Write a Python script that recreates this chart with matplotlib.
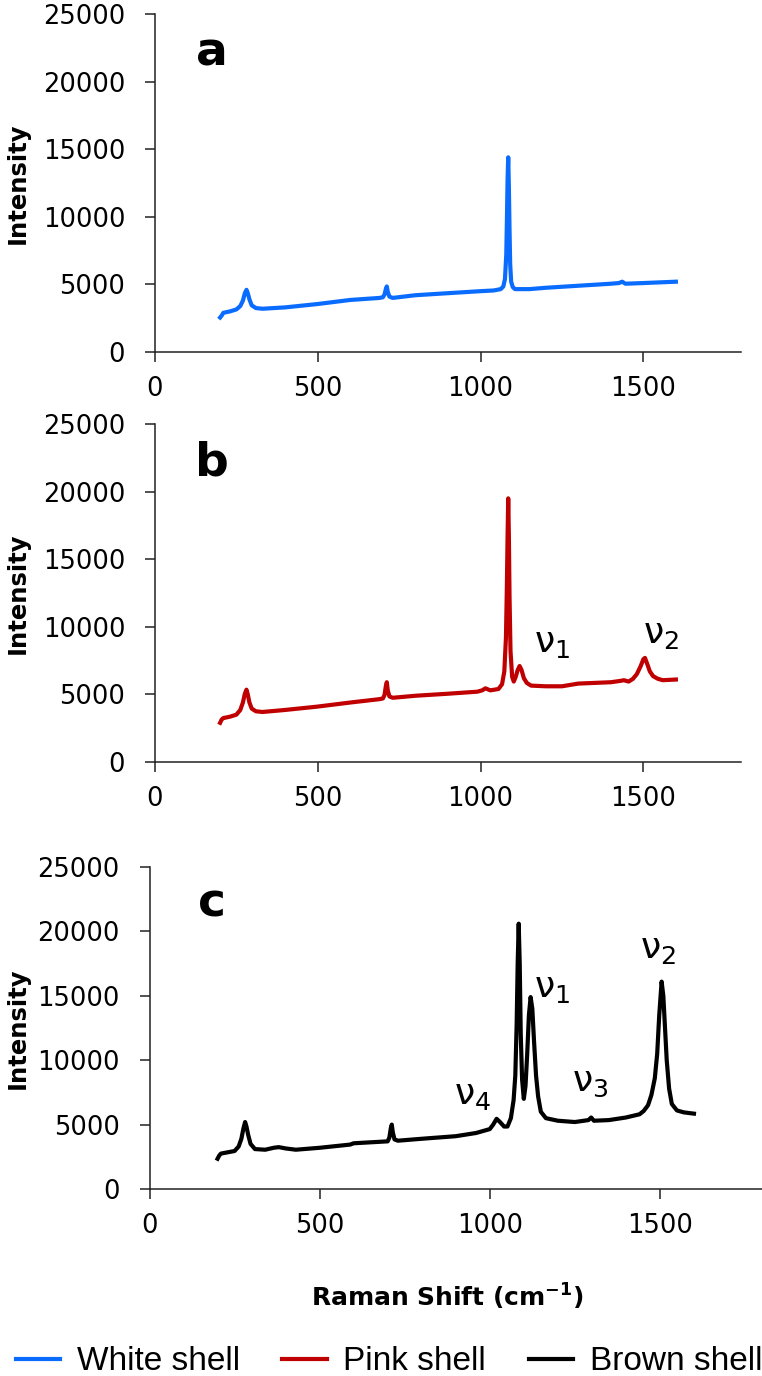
import numpy as np
import matplotlib
matplotlib.use("Agg")
from matplotlib import pyplot as plt

# Raman spectra (shift in cm-1, intensity)
white_x = [200, 205, 210, 230, 250, 262, 270, 276, 281, 285, 290, 297, 310, 330, 400, 500, 600, 690, 700,
           705, 709, 712, 715, 720, 730, 800, 900, 1000, 1040, 1062, 1070, 1075, 1079, 1081, 1083, 1085,
           1087, 1089, 1091, 1094, 1099, 1106, 1150, 1200, 1300, 1400, 1425, 1435, 1445, 1500, 1600]
white_y = [2550, 2700, 2900, 3000, 3150, 3400, 3800, 4350, 4600, 4350, 3900, 3450, 3250, 3200, 3300, 3550, 3850, 4000, 4050,
           4250, 4650, 4850, 4450, 4100, 4000, 4200, 4350, 4500, 4550, 4650, 4850, 5400, 7200, 9800, 12800, 14400,
           12200, 9000, 6500, 5200, 4800, 4650, 4650, 4750, 4900, 5050, 5100, 5200, 5050, 5100, 5200]

pink_x = [200, 205, 210, 230, 250, 262, 270, 276, 281, 285, 290, 297, 310, 330, 400, 500, 600, 690, 700,
          705, 709, 712, 715, 720, 730, 800, 900, 990, 1005, 1015, 1030, 1055, 1066, 1073, 1078, 1081, 1083,
          1085, 1087, 1089, 1092, 1097, 1102, 1108, 1114, 1120, 1126, 1133, 1142, 1155, 1200, 1250, 1300, 1400,
          1430, 1440, 1455, 1468, 1480, 1492, 1500, 1505, 1512, 1520, 1530, 1545, 1560, 1600]
pink_y = [2900, 3150, 3250, 3350, 3500, 3850, 4400, 5050, 5350, 5000, 4400, 3950, 3750, 3700, 3850, 4100, 4400, 4650, 4700,
          4950, 5600, 5900, 5300, 4850, 4750, 4900, 5050, 5200, 5300, 5450, 5300, 5400, 5750, 6700, 9200, 13200, 16700,
          19500, 16700, 12200, 8200, 6300, 5950, 6300, 6800, 7100, 6800, 6200, 5850, 5650, 5600, 5600, 5800, 5900,
          6000, 6050, 5950, 6150, 6500, 7100, 7600, 7700, 7250, 6700, 6350, 6150, 6050, 6100]

brown_x = [200, 205, 210, 230, 250, 262, 270, 276, 281, 285, 290, 297, 310, 340, 365, 380, 400, 430, 500, 590,
           600, 700, 705, 709, 712, 715, 720, 730, 800, 900, 960, 1000, 1010, 1020, 1030, 1042, 1052, 1062,
           1070, 1075, 1079, 1082, 1085, 1088, 1091, 1095, 1100, 1105, 1110, 1115, 1120, 1125, 1130, 1136,
           1142, 1150, 1165, 1200, 1250, 1290, 1298, 1306, 1350, 1400, 1440, 1452, 1465, 1475, 1485, 1492,
           1498, 1505, 1510, 1515, 1520, 1527, 1535, 1550, 1570, 1600]
brown_y = [2350, 2600, 2750, 2850, 2950, 3300, 3900, 4700, 5200, 4850, 4200, 3500, 3100, 3050, 3200, 3250, 3150, 3050, 3200, 3450,
           3550, 3700, 4000, 4700, 5000, 4400, 3850, 3750, 3900, 4100, 4350, 4650, 5000, 5450, 5200, 4850, 4850, 5500,
           6900, 8800, 12800, 17500, 20600, 17500, 12000, 8500, 7000, 8000, 10500, 13500, 14900, 14000, 11500, 8800,
           7200, 6000, 5500, 5300, 5200, 5350, 5550, 5300, 5350, 5550, 5800, 6050, 6500, 7300, 8600, 10500,
           13500, 16100, 15000, 12500, 10000, 7800, 6600, 6100, 5950, 5850]

series = ["White shell", "Pink shell", "Brown shell"]
colors = ["#0A6CFF", "#C00000", "#000000"]
panel_letters = ["a", "b", "c"]

# band labels: panel index, text, x, y (baseline left corner, data units)
band_panel = [1, 1, 2, 2, 2, 2]
band_text = ["1", "2", "4", "1", "3", "2"]
band_x = [1164, 1499, 894, 1129, 1243, 1440]
band_y = [8136, 8801, 6599, 14907, 7609, 17935]

W, H = 762, 1376
fig = plt.figure(figsize=(W / 100, H / 100), dpi=100)

# axes boxes in pixels: left, top, right, bottom
boxes = [(155, 14, 741, 352), (155, 424, 741, 762), (149.5, 867, 762, 1189)]
data = [(white_x, white_y), (pink_x, pink_y), (brown_x, brown_y)]

axes = []
for i, (l, t, r, b) in enumerate(boxes):
    ax = fig.add_axes([l / W, 1 - b / H, (r - l) / W, (b - t) / H])
    x, y = data[i]
    ax.plot(x, y, color=colors[i], lw=3.0, label=series[i], solid_joinstyle="round")
    ax.set_xlim(0, 1800)
    ax.set_ylim(0, 25000)
    ax.set_xticks([0, 500, 1000, 1500])
    ax.set_yticks(np.arange(0, 25001, 5000))
    for s in ["top", "right"]:
        ax.spines[s].set_visible(False)
    for s in ["left", "bottom"]:
        ax.spines[s].set_linewidth(1.1)
        ax.spines[s].set_color("#222222")
    ax.tick_params(axis="both", direction="out", length=7.5, width=1.1, color="#222222")
    ax.tick_params(axis="x", pad=10)
    ax.tick_params(axis="y", pad=14)
    for lab in ax.get_xticklabels() + ax.get_yticklabels():
        lab.set_fontfamily("DejaVu Sans")
        lab.set_fontsize(18.5)
    ax.set_ylabel("Intensity", fontsize=17.5, fontweight="bold", family="DejaVu Sans")
    ax.yaxis.set_label_coords((30 - l) / (r - l), 0.5)
    ax.text((212 - l) / (r - l), 0.885, panel_letters[i], transform=ax.transAxes,
            fontsize=34, fontweight="bold", family="DejaVu Sans", ha="center", va="center")
    axes.append(ax)

for p, t, bx, by in zip(band_panel, band_text, band_x, band_y):
    axes[p].text(bx, by, r"$\mathregular{\nu_{%s}}$" % t, fontsize=26, family="DejaVu Sans",
                 ha="left", va="baseline")

fig.text(447 / W, 1 - 1297 / H, r"Raman Shift (cm$^{\mathbf{-1}}$)", fontsize=18, fontweight="bold",
         family="DejaVu Sans", ha="center", va="center")

handles = [a.get_lines()[0] for a in axes]
leg = fig.legend(handles, series, loc="center", bbox_to_anchor=(389 / W, 1 - 1362 / H), ncol=3,
                 frameon=False, prop={"family": "Liberation Sans", "size": 24}, handlelength=1.33,
                 handletextpad=0.5, columnspacing=1.27, borderpad=0, borderaxespad=0)
for h in leg.get_lines():
    h.set_linewidth(3)

fig.savefig("out.png", dpi=100)
